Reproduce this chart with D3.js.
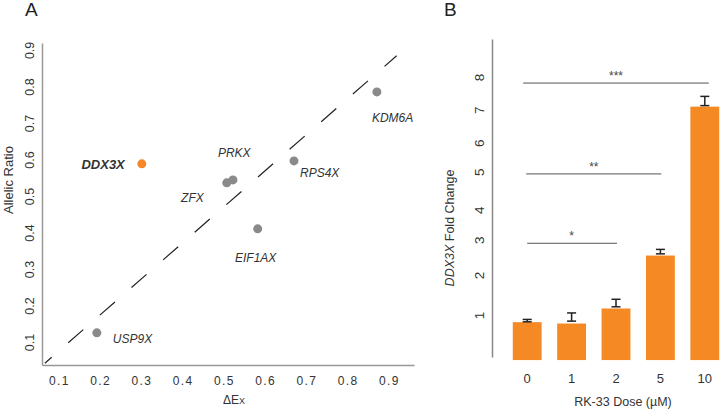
<!DOCTYPE html>
<html>
<head>
<meta charset="utf-8">
<script src="https://cdn.jsdelivr.net/npm/d3@7"></script>
<style>
  body { margin: 0; background: #fff; }
  svg { display: block; font-family: "Liberation Sans", Arial, sans-serif; }
</style>
</head>
<body>
<div id="chart"></div>
<script>
// Panel A data
const genes = ["USP9X", "DDX3X", "ZFX", "PRKX", "RPS4X", "EIF1AX", "KDM6A"];
const deltaEx = [0.192, 0.301, 0.507, 0.522, 0.670, 0.582, 0.871];
const allelicRatio = [0.125, 0.588, 0.536, 0.544, 0.596, 0.410, 0.785];
const ticksA = [0.1, 0.2, 0.3, 0.4, 0.5, 0.6, 0.7, 0.8, 0.9];
const refLineX = [0.066, 0.919];
const refLineY = [0.042, 0.884];

// Panel B data
const doses = ["0", "1", "2", "5", "10"];
const foldChange = [0.82, 0.78, 1.22, 2.77, 7.13];
const errLow = [0.83, 0.85, 1.27, 2.82, 7.16];
const errHigh = [0.90, 1.09, 1.49, 2.95, 7.43];
const tickPosB = [1.03, 2.2, 3.23, 4.11, 5.22, 6.07, 7.04, 8.0];
const tickLabelsB = ["1", "2", "3", "4", "5", "6", "7", "8"];
const sigLabels = ["*", "**", "***"];
const sigTo = ["2", "5", "10"];
const sigLevel = [3.13, 5.16, 7.82];

const W = 720, H = 409;
const svg = d3.select("#chart").append("svg")
    .attr("width", W)
    .attr("height", H);

// ---------- Panel A ----------
const xA = d3.scaleLinear().domain([0.059, 0.961]).range([42, 414]);
const yA = d3.scaleLinear().domain([0.037, 0.919]).range([365, 43]);

// label placement (pixels relative to point)
const labelPos = {
    USP9X: { dx: 16, dy: 10, anchor: "start" },
    DDX3X: { dx: -17, dy: 5, anchor: "end" },
    ZFX: { dx: -23, dy: 19, anchor: "end" },
    PRKX: { dx: -15, dy: -23, anchor: "start" },
    RPS4X: { dx: 6, dy: 16, anchor: "start" },
    EIF1AX: { dx: -2, dy: 33, anchor: "middle" },
    KDM6A: { dx: -5, dy: 30, anchor: "start" }
};

svg.append("text")
    .attr("x", 25).attr("y", 16)
    .attr("font-size", 19).attr("fill", "#222")
    .text("A");

// X axis
const gxA = svg.append("g")
    .attr("transform", `translate(0,${yA.range()[0]})`)
    .call(d3.axisBottom(xA).tickValues(ticksA).tickSize(0).tickSizeOuter(0).tickPadding(11));
gxA.select(".domain").attr("stroke", "#999").attr("stroke-width", 1.5);
gxA.selectAll("text")
    .attr("font-size", 12)
    .attr("fill", "#333")
    .attr("letter-spacing", 1.3)
    .attr("font-family", "Liberation Sans, Arial, sans-serif");

// Y axis
const gyA = svg.append("g")
    .attr("transform", `translate(${xA.range()[0]},0)`)
    .call(d3.axisLeft(yA).tickValues(ticksA).tickSize(0).tickSizeOuter(0));
gyA.select(".domain").attr("stroke", "#999").attr("stroke-width", 1.5);
gyA.selectAll("text")
    .attr("transform", "rotate(-90)")
    .attr("x", 0).attr("y", -8).attr("dy", 0)
    .attr("text-anchor", "middle")
    .attr("font-size", 12.5)
    .attr("fill", "#333")
    .attr("font-family", "Liberation Sans, Arial, sans-serif");

// axis titles
const xTitle = svg.append("text")
    .attr("x", 223).attr("y", 404)
    .attr("font-size", 12).attr("fill", "#333");
xTitle.append("tspan").text("ΔE");
xTitle.append("tspan").attr("font-size", 9).text("X");

svg.append("text")
    .attr("transform", "translate(13,180) rotate(-90)")
    .attr("text-anchor", "middle")
    .attr("font-size", 13).attr("fill", "#333")
    .text("Allelic Ratio");

// dashed reference line
svg.append("line")
    .attr("x1", xA(refLineX[0])).attr("y1", yA(refLineY[0]))
    .attr("x2", xA(refLineX[1])).attr("y2", yA(refLineY[1]))
    .attr("stroke", "#222")
    .attr("stroke-width", 1.2)
    .attr("stroke-dasharray", "20,22")
    .attr("stroke-dashoffset", 11);

const pts = genes.map((g, i) => ({ gene: g, x: deltaEx[i], y: allelicRatio[i] }));

svg.selectAll(".dot")
    .data(pts)
    .enter()
    .append("circle")
    .attr("cx", d => xA(d.x))
    .attr("cy", d => yA(d.y))
    .attr("r", 4.5)
    .attr("fill", d => d.gene === "DDX3X" ? "#f5872a" : "#8a8a8a");

svg.selectAll(".glabel")
    .data(pts)
    .enter()
    .append("text")
    .attr("x", d => xA(d.x) + labelPos[d.gene].dx)
    .attr("y", d => yA(d.y) + labelPos[d.gene].dy)
    .attr("text-anchor", d => labelPos[d.gene].anchor)
    .attr("font-style", "italic")
    .attr("font-weight", d => d.gene === "DDX3X" ? "bold" : "normal")
    .attr("font-size", d => d.gene === "DDX3X" ? 13 : 12)
    .attr("fill", "#333")
    .text(d => d.gene);

// ---------- Panel B ----------
const xB = d3.scaleBand()
    .domain(doses)
    .range([505, 727])
    .paddingInner(0.35)
    .paddingOuter(0.175);
const yB = d3.scaleLinear().domain([-0.2, 9.11]).range([357, 39]);
const barBase = -0.29;

svg.append("text")
    .attr("x", 444).attr("y", 16)
    .attr("font-size", 19).attr("fill", "#222")
    .text("B");

const gyB = svg.append("g")
    .attr("transform", "translate(492,0)")
    .call(d3.axisLeft(yB).tickValues(tickPosB).tickSize(0).tickSizeOuter(0)
        .tickFormat((d, i) => tickLabelsB[i]));
gyB.select(".domain").attr("stroke", "#888").attr("stroke-width", 1.5);
gyB.selectAll("text")
    .attr("transform", "rotate(-90)")
    .attr("x", 0).attr("y", -8).attr("dy", 0)
    .attr("text-anchor", "middle")
    .attr("font-size", 13.5)
    .attr("fill", "#333")
    .attr("font-family", "Liberation Sans, Arial, sans-serif");

const gxB = svg.append("g")
    .attr("transform", "translate(0,365)")
    .call(d3.axisBottom(xB).tickSize(0).tickPadding(9));
gxB.select(".domain").remove();
gxB.selectAll("text")
    .attr("font-size", 13)
    .attr("fill", "#333")
    .attr("font-family", "Liberation Sans, Arial, sans-serif");

svg.append("text")
    .attr("x", 623).attr("y", 406)
    .attr("text-anchor", "middle")
    .attr("font-size", 12.5).attr("fill", "#333")
    .text("RK-33 Dose (µM)");

const yTitle = svg.append("text")
    .attr("transform", "translate(454,228) rotate(-90)")
    .attr("text-anchor", "middle")
    .attr("font-size", 12.5).attr("fill", "#333");
yTitle.append("tspan").attr("font-style", "italic").text("DDX3X");
yTitle.append("tspan").text(" Fold Change");

const bars = doses.map((d, i) => ({ dose: d, v: foldChange[i], lo: errLow[i], hi: errHigh[i] }));

svg.selectAll(".bar")
    .data(bars)
    .enter()
    .append("rect")
    .attr("x", d => xB(d.dose))
    .attr("y", d => yB(d.v))
    .attr("width", xB.bandwidth())
    .attr("height", d => yB(barBase) - yB(d.v))
    .attr("fill", "#f58a25");

// error bars
const eb = svg.selectAll(".err")
    .data(bars)
    .enter()
    .append("g")
    .attr("stroke", "#222")
    .attr("stroke-width", 1.5);
eb.append("line")
    .attr("x1", d => xB(d.dose) + xB.bandwidth() / 2)
    .attr("x2", d => xB(d.dose) + xB.bandwidth() / 2)
    .attr("y1", d => yB(d.lo))
    .attr("y2", d => yB(d.hi));
eb.append("line")
    .attr("x1", d => xB(d.dose) + xB.bandwidth() / 2 - 4.5)
    .attr("x2", d => xB(d.dose) + xB.bandwidth() / 2 + 4.5)
    .attr("y1", d => yB(d.hi))
    .attr("y2", d => yB(d.hi));
eb.append("line")
    .attr("x1", d => xB(d.dose) + xB.bandwidth() / 2 - 4.5)
    .attr("x2", d => xB(d.dose) + xB.bandwidth() / 2 + 4.5)
    .attr("y1", d => yB(d.lo))
    .attr("y2", d => yB(d.lo));

// significance brackets
const sig = sigLabels.map((s, i) => ({ label: s, to: sigTo[i], level: sigLevel[i] }));
const cx = d => xB(d) + xB.bandwidth() / 2;

svg.selectAll(".sigline")
    .data(sig)
    .enter()
    .append("line")
    .attr("x1", (d, i) => cx("0") - [0, 1, 4][i])
    .attr("x2", d => cx(d.to) + (d.to === "10" ? 4 : 1))
    .attr("y1", d => yB(d.level))
    .attr("y2", d => yB(d.level))
    .attr("stroke", "#555")
    .attr("stroke-width", 1);

svg.selectAll(".sigtext")
    .data(sig)
    .enter()
    .append("text")
    .attr("x", d => (cx("0") + cx(d.to)) / 2)
    .attr("y", d => yB(d.level) - 3)
    .attr("text-anchor", "middle")
    .attr("font-size", 12)
    .attr("fill", "#444")
    .text(d => d.label);
</script>
</body>
</html>
